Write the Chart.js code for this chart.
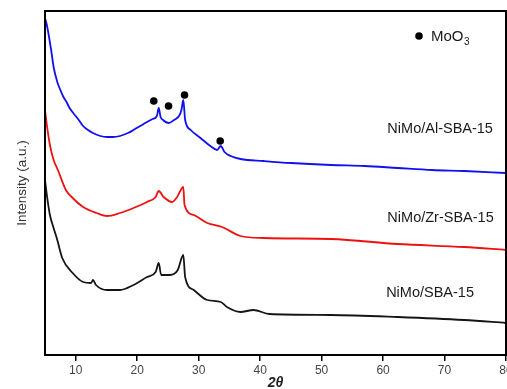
<!DOCTYPE html>
<html>
<head>
<meta charset="utf-8">
<script src="https://cdn.jsdelivr.net/npm/chart.js@4.4.1/dist/chart.umd.min.js"></script>
<style>
  html, body { margin: 0; padding: 0; background: #fff; overflow: hidden; width: 507px; height: 389px; }
  canvas { display: block; }
</style>
</head>
<body>
<canvas id="c" width="520" height="389"></canvas>
<script>
// ---- data (2θ in degrees, intensity in arbitrary units) ----
const alSBA_2theta = [5.0,5.3,6.0,6.4,7.0,7.5,8.0,8.5,9.0,9.6,10.5,11.2,12.0,12.8,14.0,15.1,16.0,17.2,18.5,19.4,20.5,21.6,22.5,23.2,23.5,23.8,24.2,25.1,26.0,26.8,27.2,27.5,27.8,28.7,30.3,31.9,33.0,33.6,34.2,35.2,36.8,40.6,45,51.5,57,62.4,68,73.2,80];
const alSBA_intensity = [337,330,305,288,273,265,258,253,247,242,235,229,225,222,219,218,218,219,222,225,229,233,236,239,247,238,235,232,235,239,245,255,235,225,217,209,205,209,203,199,196,194,192,190,189,187,185,184,182];

const zrSBA_2theta = [5.0,5.3,5.8,6.4,7.1,8.4,9.5,11.2,13.4,15.1,17.2,19.4,21.6,23.0,23.5,24.3,25.7,26.5,27.5,27.7,29.2,31.4,33.8,36.8,40.6,51.5,62.4,73.2,80];
const zrSBA_intensity = [245,230,210,195,185,165,157,148,142,139,142,147,153,158,164,158,153,158,168,150,140,132,128,119,117,116,111,108,105];

const SBA_2theta = [5.0,5.3,5.8,6.4,7.0,7.8,9.5,11.2,12.5,12.8,13.3,15.1,17.2,19.4,21.6,23.0,23.5,23.9,25.3,26.6,27.5,27.8,29.2,31.4,33.6,34.6,36.8,38.9,41.5,51.5,62.4,73.2,80];
const SBA_intensity = [175,160,140,127,115,97,82,73,72,75,70,65,65,70,78,83,92,80,80,85,100,78,65,55,53,48,43,45,41,40,38,35,32];

const moo3_2theta = [22.7, 25.1, 27.7, 33.5];
const moo3_intensity = [254, 249, 260, 214];

const xTickValues = [10, 20, 30, 40, 50, 60, 70, 80];
const seriesNames = ['NiMo/Al-SBA-15', 'NiMo/Zr-SBA-15', 'NiMo/SBA-15'];
const seriesLabelAt = [[60.7, 226], [60.7, 137], [60.5, 62]];
const legendLabel = 'MoO';
const legendSub = '3';

const toPts = (xs, ys) => xs.map((x, i) => ({ x: x, y: ys[i] }));
const FONT = 'Arial, "Liberation Sans", sans-serif';

const annotPlugin = {
  id: 'annot',
  afterDatasetsDraw(chart) {
    const { ctx, chartArea, scales } = chart;
    ctx.save();
    // frame
    ctx.strokeStyle = '#000';
    ctx.lineWidth = 2;
    ctx.strokeRect(chartArea.left, chartArea.top, chartArea.right - chartArea.left, chartArea.bottom - chartArea.top);
    // series labels
    ctx.fillStyle = '#1a1a1a';
    ctx.font = '14.5px ' + FONT;
    ctx.textBaseline = 'middle';
    ctx.textAlign = 'left';
    seriesNames.forEach((n, i) => {
      ctx.fillText(n, scales.x.getPixelForValue(seriesLabelAt[i][0]), scales.y.getPixelForValue(seriesLabelAt[i][1]));
    });
    // legend
    const lx = chartArea.left + 374, ly = chartArea.top + 25;
    ctx.beginPath();
    ctx.arc(lx, ly, 3.8, 0, Math.PI * 2);
    ctx.fillStyle = '#000';
    ctx.fill();
    ctx.fillStyle = '#1a1a1a';
    ctx.font = '15px ' + FONT;
    ctx.fillText(legendLabel, lx + 12, ly + 1);
    const w = ctx.measureText(legendLabel).width;
    ctx.font = '10px ' + FONT;
    ctx.fillText(legendSub, lx + 12 + w + 0.5, ly + 6);
    ctx.restore();
  }
};

const lineDs = (i, xs, ys, color) => ({
  label: seriesNames[i], data: toPts(xs, ys), showLine: true,
  borderColor: color, borderWidth: 1.8, pointRadius: 0, cubicInterpolationMode: 'monotone'
});

new Chart(document.getElementById('c'), {
  type: 'scatter',
  data: {
    datasets: [
      lineDs(0, alSBA_2theta, alSBA_intensity, '#1010f0'),
      lineDs(1, zrSBA_2theta, zrSBA_intensity, '#ee1111'),
      lineDs(2, SBA_2theta, SBA_intensity, '#151515'),
      { label: 'MoO3', data: toPts(moo3_2theta, moo3_intensity), showLine: false, pointRadius: 3.8, pointBackgroundColor: '#000', pointBorderWidth: 0, borderColor: '#000' }
    ]
  },
  options: {
    responsive: false,
    animation: false,
    layout: { padding: { left: 0, top: 11, right: 14, bottom: 0 } },
    plugins: { legend: { display: false }, tooltip: { enabled: false } },
    scales: {
      x: {
        type: 'linear',
        min: 5, max: 80,
        afterBuildTicks: (s) => { s.ticks = xTickValues.map(v => ({ value: v })); },
        afterFit: (s) => { s.height = 34; },
        grid: { display: true, drawOnChartArea: false, drawTicks: true, tickLength: 6, color: '#000', lineWidth: 1.5 },
        border: { display: false },
        ticks: { color: '#444', font: { family: FONT, size: 12 }, padding: 2, maxRotation: 0 },
        title: { display: true, text: '2θ', color: '#222', font: { family: FONT, size: 14, weight: 'bold', style: 'italic', lineHeight: 0.8 }, padding: { top: 0, bottom: 0 } }
      },
      y: {
        type: 'linear',
        min: 0, max: 344,
        afterFit: (s) => { s.width = 45; },
        grid: { display: false },
        border: { display: false },
        ticks: { display: false },
        title: { display: true, text: 'Intensity (a.u.)', color: '#333', font: { family: FONT, size: 13.5 }, padding: { top: 14, bottom: 0 } }
      }
    }
  },
  plugins: [annotPlugin]
});
</script>
</body>
</html>
